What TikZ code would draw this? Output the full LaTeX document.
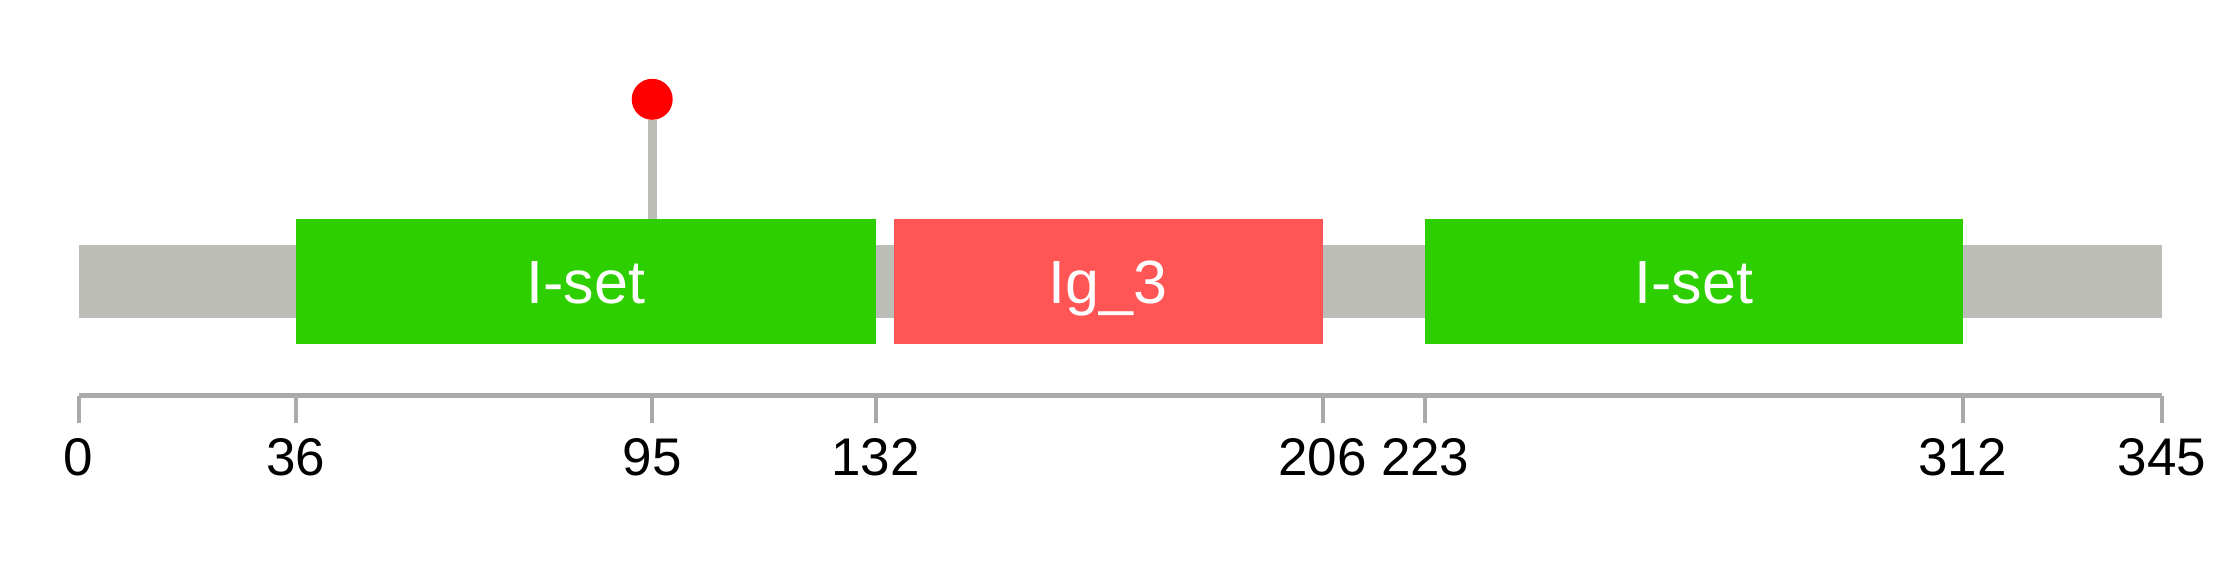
\documentclass[tikz,border=0pt]{standalone}
\usepackage{fontspec}
\setmainfont{Liberation Sans}
\usetikzlibrary{positioning}
\definecolor{chaingray}{HTML}{BBBDB6}
\definecolor{isetgreen}{HTML}{2ECF00}
\definecolor{igred}{HTML}{FF5555}
\definecolor{scalegray}{HTML}{AAAAAA}

\begin{document}
\begin{tikzpicture}[
			x=0.5pt,y=-0.5pt,
			every node/.style={inner sep=0pt,outer sep=0pt},
			chain/.style={fill=chaingray,minimum height=36.5pt,minimum width=1041.75pt},
			dombox/.style={minimum height=62.5pt,text=white,font=\fontsize{30.5}{32}\selectfont,text height=21.8pt,text depth=0pt},
			ticklabel/.style={font=\fontsize{26.5}{28}\selectfont,text height=19pt,text depth=0pt},
			scaleline/.style={draw=scalegray,line width=2.5pt},
			tickmark/.style={draw=scalegray,line width=2pt},
			stem/.style={draw=chaingray,line width=4.5pt},
			mutdot/.style={circle,fill=red,minimum size=20.5pt}
			]
			\useasboundingbox (0,0) rectangle (2239,578);
			% protein backbone and domains
			\node[chain] (backbone) at (1120.25,281.5) {};
			\node[dombox,fill=isetgreen,minimum width=289.85pt] (iset1) at (585.75,281.5) {I-set};
			\node[dombox,fill=igred,minimum width=214.35pt] (ig3) at (1108.15,281.5) {Ig\_3};
			\node[dombox,fill=isetgreen,minimum width=268.75pt] (iset2) at (1693.95,281.5) {I-set};
			% mutation at 95
			\node[mutdot] (mut95) at (652.2,99.3) {};
			\draw[stem] (mut95) -- (mut95 |- iset1.north);
			% scale
			\coordinate (scalestart) at (78.5,395.7);
			\coordinate (scaleend) at (2162,395.7);
			\draw[scaleline] (scalestart) -- (scaleend);
			\foreach \pos/\px in {0/78.5,36/295.9,95/652.2,132/875.6,206/1322.5,223/1425.2,312/1962.7,345/2162}{
				\coordinate (t\pos) at (\px,395.7);
				\draw[tickmark] (t\pos) -- ++(0,27.3);
				\node[ticklabel] (lab\pos) at (\px,456.3) {\pos};
			}
		\end{tikzpicture}
\end{document}
